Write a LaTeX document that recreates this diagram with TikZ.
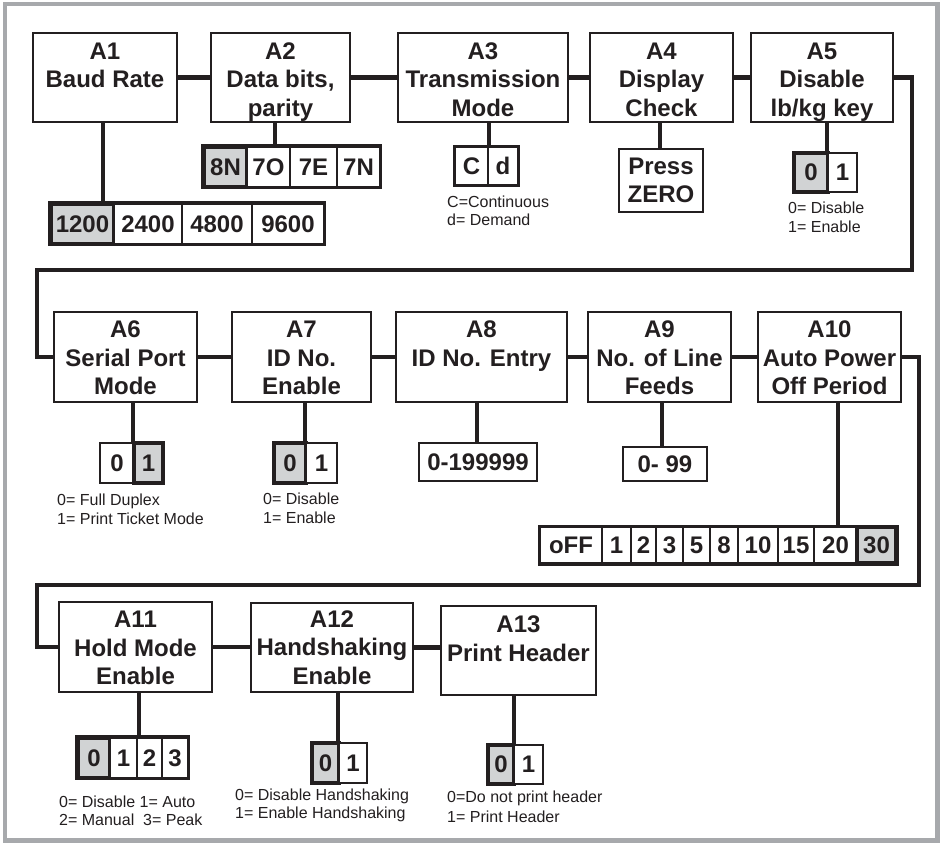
\documentclass[tikz,border=0pt]{standalone}
\usepackage{fontspec}
\setmainfont{Liberation Sans}
\definecolor{ink}{HTML}{231F20}
\definecolor{selgray}{HTML}{D1D3D4}
\definecolor{framegray}{HTML}{A7A9AC}
\newcommand{\mkbox}[7]{%
  \node[#1,minimum width={(#5-#3)*1pt},minimum height={(#6-#4)*1pt}] (#2) at ({(#3+#5)/2},{(#4+#6)/2}) {#7};}
\newcommand{\mkmain}[7][3.4pt]{%
  \mkbox{mainbox}{#2}{#3}{#4}{#5}{#6}{\raisebox{-#1}[\height][\depth]{\begin{tabular}{@{}c@{}}#7\end{tabular}}}}
\tikzset{
  mainbox/.style={draw=ink,line width=2.2pt,fill=white,align=center,inner sep=0pt,text=ink,
    font=\fontsize{24}{28.5}\selectfont\bfseries},
  optcell/.style={draw=ink,line width=2pt,fill=white,align=center,inner sep=0pt,text=ink,
    font=\fontsize{24}{28}\selectfont\bfseries},
  selcell/.style={optcell,fill=selgray,line width=3.5pt},
  rowframe/.style={draw=ink,line width=2.6pt},
  conn/.style={draw=ink,line width=4.5pt},
  note/.style={anchor=base west,inner sep=0pt,text=ink,font=\fontsize{16}{18}\selectfont},
  outerframe/.style={draw=framegray,line width=4.5pt}
}
\begin{document}
\begin{tikzpicture}[x=1pt,y=-1pt]
\useasboundingbox (0,0) rectangle (943,844);
\fill[white] (0,0) rectangle (943,844);
\draw[outerframe] (5,4) rectangle (937.5,840.5);

% main boxes
\mkmain[4.3pt]{a1}{33}{33}{177}{122}{A1\\Baud Rate\\\mbox{}}
\mkmain[4.3pt]{a2}{211}{33}{350}{122}{A2\\Data bits,\\parity}
\mkmain[4.3pt]{a3}{398}{33}{568}{122}{A3\\Transmission\\Mode}
\mkmain[4.3pt]{a4}{590}{33}{733}{122}{A4\\Display\\Check}
\mkmain[4.3pt]{a5}{751}{33}{893}{122}{A5\\Disable\\lb/kg key}
\mkmain{a6}{54}{312}{197}{402}{A6\\Serial Port\\Mode}
\mkmain{a7}{232}{312}{371}{402}{A7\\ID No.\\Enable}
\mkmain{a8}{396}{312}{567}{402}{A8\\ID No. Entry\\\mbox{}}
\mkmain{a9}{588}{312}{731}{402}{A9\\No. of Line\\Feeds}
\mkmain{a10}{758}{312}{901}{402}{A10\\Auto Power\\Off Period}
\mkmain{a11}{59}{602}{212}{692}{A11\\Hold Mode\\Enable}
\mkmain[2.6pt]{a12}{251}{603}{413}{692}{A12\\Handshaking\\Enable}
\mkmain[5pt]{a13}{441}{606}{596}{695}{A13\\Print Header\\\mbox{}}

% option rows
\mkbox{selcell}{o1a}{51}{204}{114}{244}{1200}
\mkbox{optcell}{o1b}{114}{204}{182}{244}{2400}
\mkbox{optcell}{o1c}{182}{204}{252}{244}{4800}
\mkbox{optcell}{o1d}{252}{204}{324}{244}{9600}
\draw[rowframe] (o1a.north west) rectangle (o1d.south east);

\mkbox{selcell}{o2a}{204}{147}{247}{187}{8N}
\mkbox{optcell}{o2b}{247}{147}{290}{187}{7O}
\mkbox{optcell}{o2c}{290}{147}{337}{187}{7E}
\mkbox{optcell}{o2d}{337}{147}{380}{187}{7N}
\draw[rowframe] (o2a.north west) rectangle (o2d.south east);

\mkbox{optcell}{o3a}{455}{147}{488}{185}{C}
\mkbox{optcell}{o3b}{488}{147}{518}{185}{d}
\draw[rowframe] (o3a.north west) rectangle (o3b.south east);

\mkbox{optcell}{o4}{619}{149}{703}{212}{Press\\ZERO}

\mkbox{selcell}{o5a}{794}{153}{828}{192}{0}
\mkbox{optcell}{o5b}{828}{153}{857}{192}{1}

\mkbox{optcell}{o6a}{100}{443}{134}{483}{0}
\mkbox{selcell}{o6b}{134}{443}{163}{483}{1}

\mkbox{selcell}{o7a}{274}{443}{306}{483}{0}
\mkbox{optcell}{o7b}{306}{443}{337}{483}{1}

\mkbox{optcell}{o8}{419}{443}{537}{481}{0-199999}
\mkbox{optcell}{o9}{623}{447}{707}{481}{0- 99}

\mkbox{optcell}{o10a}{540}{527}{602}{563}{oFF}
\mkbox{optcell}{o10b}{602}{527}{631}{563}{1}
\mkbox{optcell}{o10c}{631}{527}{656}{563}{2}
\mkbox{optcell}{o10d}{656}{527}{683}{563}{3}
\mkbox{optcell}{o10e}{683}{527}{710}{563}{5}
\mkbox{optcell}{o10f}{710}{527}{738}{563}{8}
\mkbox{optcell}{o10g}{738}{527}{778}{563}{10}
\mkbox{optcell}{o10h}{778}{527}{814}{563}{15}
\mkbox{optcell}{o10i}{814}{527}{857}{563}{20}
\mkbox{selcell}{o10j}{857}{527}{896}{563}{30}
\draw[rowframe] (o10a.north west) rectangle (o10j.south east);

\mkbox{selcell}{o11a}{78}{738}{110}{778}{0}
\mkbox{optcell}{o11b}{110}{738}{137}{778}{1}
\mkbox{optcell}{o11c}{137}{738}{162}{778}{2}
\mkbox{optcell}{o11d}{162}{738}{188}{778}{3}
\draw[rowframe] (o11a.north west) rectangle (o11d.south east);

\mkbox{selcell}{o12a}{312}{743}{339}{783}{0}
\mkbox{optcell}{o12b}{339}{743}{367}{783}{1}

\mkbox{selcell}{o13a}{488}{745}{514}{784}{0}
\mkbox{optcell}{o13b}{514}{745}{543}{784}{1}

% junction points on option rows
\coordinate (j1) at (103,204);
\coordinate (j2) at (275,147);
\coordinate (j3) at (489,147);
\coordinate (j4) at (660,149);
\coordinate (j5) at (827,153);
\coordinate (j6) at (133,443);
\coordinate (j7) at (305,443);
\coordinate (j8) at (477,443);
\coordinate (j9) at (662,447);
\coordinate (j10) at (838,527);
\coordinate (j11) at (139,738);
\coordinate (j12) at (338,743);
\coordinate (j13) at (514,745);
\foreach \i in {1,...,13} {\draw[conn] (a\i.south -| j\i) -- (j\i);}

% chain connectors
\draw[conn] (a1.east) -- (a1.east -| a2.west);
\draw[conn] (a2.east) -- (a2.east -| a3.west);
\draw[conn] (a3.east) -- (a3.east -| a4.west);
\draw[conn] (a4.east) -- (a4.east -| a5.west);
\draw[conn] (a6.east) -- (a6.east -| a7.west);
\draw[conn] (a7.east) -- (a7.east -| a8.west);
\draw[conn] (a8.east) -- (a8.east -| a9.west);
\draw[conn] (a9.east) -- (a9.east -| a10.west);
\draw[conn] (a11.east) -- (a11.east -| a12.west);
\draw[conn] (a12.east) -- (a12.east -| a13.west);

\coordinate (t1) at (912,270);
\coordinate (t2) at (37,270);
\draw[conn] (a5.east) -| (t1) -- (t2) |- (a6.west);
\coordinate (u1) at (919,585);
\coordinate (u2) at (37,585);
\draw[conn] (a10.east) -| (u1) -- (u2) |- (a11.west);

% notes
\node[note] (n3a) at (447,207) {C=Continuous};
\node[note] (n3b) at (447,225) {d= Demand};
\node[note] (n5a) at (788,213) {0= Disable};
\node[note] (n5b) at (788,232) {1= Enable};
\node[note] (n6a) at (57,505) {0= Full Duplex};
\node[note] (n6b) at (57,524) {1= Print Ticket Mode};
\node[note] (n7a) at (263,504) {0= Disable};
\node[note] (n7b) at (263,523) {1= Enable};
\node[note] (n11a) at (59,807) {0= Disable 1= Auto};
\node[note] (n11b) at (59,825) {2= Manual\ \ 3= Peak};
\node[note] (n12a) at (235,800) {0= Disable Handshaking};
\node[note] (n12b) at (235,818) {1= Enable Handshaking};
\node[note] (n13a) at (447,802) {0=Do not print header};
\node[note] (n13b) at (447,822) {1= Print Header};
\end{tikzpicture}
\end{document}
